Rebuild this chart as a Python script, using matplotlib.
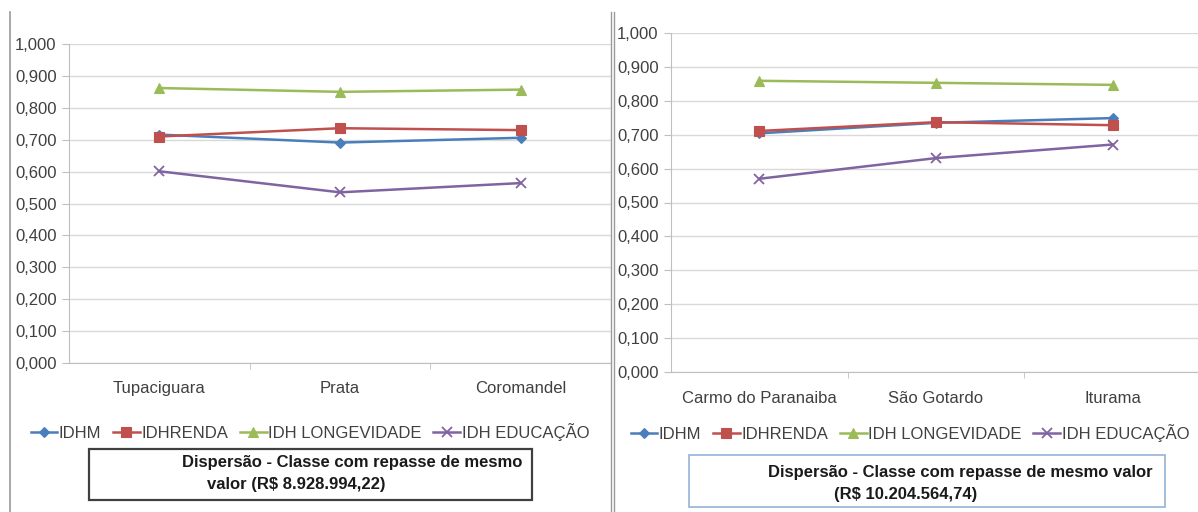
import matplotlib
matplotlib.use("Agg")
import matplotlib.pyplot as plt
from matplotlib.lines import Line2D
from matplotlib.patches import Rectangle
from matplotlib.ticker import FuncFormatter, FixedLocator

plt.rcParams['font.family'] = ['Liberation Sans', 'DejaVu Sans']

series_names = ['IDHM', 'IDHRENDA', 'IDH LONGEVIDADE', 'IDH EDUCAÇÃO']

# Class 1: R$ 8.928.994,22
cities_a = ['Tupaciguara', 'Prata', 'Coromandel']
idhm_a = [0.716, 0.691, 0.706]
renda_a = [0.710, 0.736, 0.730]
longev_a = [0.862, 0.850, 0.857]
educ_a = [0.601, 0.535, 0.564]

# Class 2: R$ 10.204.564,74
cities_b = ['Carmo do Paranaiba', 'São Gotardo', 'Iturama']
idhm_b = [0.704, 0.735, 0.749]
renda_b = [0.711, 0.737, 0.728]
longev_b = [0.859, 0.853, 0.847]
educ_b = [0.570, 0.631, 0.671]

colors = ['#4a7ebb', '#c0504d', '#9bbb59', '#8064a2']
markers = ['D', 's', '^', 'x']
msizes = [5, 7.5, 7, 7]

W, H = 1198, 512
fig = plt.figure(figsize=(W / 100, H / 100), dpi=100)


def px_axes(x0, x1, y_top, y_bot):
    return fig.add_axes([x0 / W, 1 - y_bot / H, (x1 - x0) / W, (y_bot - y_top) / H])


def draw_panel(ax, cities, data, label_pad):
    x = list(range(len(cities)))
    handles = []
    for vals, c, m, ms, name in zip(data, colors, markers, msizes, series_names):
        h, = ax.plot(x, vals, color=c, marker=m, markersize=ms, linewidth=1.8,
                     markeredgewidth=1.3 if m == 'x' else 0.8, label=name)
        handles.append(h)
    ax.set_xlim(-0.5, len(cities) - 0.5)
    ax.set_ylim(0, 1)
    ax.set_yticks([i / 10 for i in range(11)])
    ax.yaxis.set_major_formatter(FuncFormatter(lambda v, p: f'{v:.3f}'.replace('.', ',')))
    ax.set_xticks(x)
    ax.set_xticklabels(cities)
    ax.xaxis.set_minor_locator(FixedLocator([0.5, 1.5]))
    ax.tick_params(axis='x', which='major', length=0, pad=label_pad, labelsize=12, labelcolor='#404040')
    ax.tick_params(axis='x', which='minor', length=4, color='#bfbfbf')
    ax.tick_params(axis='y', length=5, color='#bfbfbf', pad=4, labelsize=12, labelcolor='#404040')
    ax.grid(axis='y', color='#d9d9d9', linewidth=1)
    ax.set_axisbelow(True)
    for s in ['top', 'right']:
        ax.spines[s].set_visible(False)
    ax.spines['left'].set_color('#bfbfbf')
    ax.spines['bottom'].set_color('#bfbfbf')
    return handles


ax1 = px_axes(69, 611, 44, 363)
h1 = draw_panel(ax1, cities_a, [idhm_a, renda_a, longev_a, educ_a], 13)

ax2 = px_axes(671, 1201, 33, 372)
h2 = draw_panel(ax2, cities_b, [idhm_b, renda_b, longev_b, educ_b], 14)

legend_kw = dict(loc='center', ncol=4, frameon=False, fontsize=12, handlelength=1.6,
                 handletextpad=0.1, columnspacing=0.7, labelcolor='#404040')
fig.legend(handles=h1, bbox_to_anchor=(310 / W, 1 - 432 / H), **legend_kw)
fig.legend(handles=h2, bbox_to_anchor=(910 / W, 1 - 433 / H), **legend_kw)

# caption boxes
fig.patches.append(Rectangle((89 / W, 1 - 500 / H), (532 - 89) / W, 51 / H,
                             transform=fig.transFigure, fill=False,
                             edgecolor='#404040', linewidth=1.6))
fig.patches.append(Rectangle((689 / W, 1 - 507 / H), (1165 - 689) / W, 52 / H,
                             transform=fig.transFigure, fill=False,
                             edgecolor='#95b3d7', linewidth=1.2))
txt = dict(ha='center', va='center', fontsize=12, fontweight='bold', color='#1a1a1a')
fig.text(352 / W, 1 - 463 / H, 'Dispersão - Classe com repasse de mesmo', **txt)
fig.text(296 / W, 1 - 484 / H, 'valor (R$ 8.928.994,22)', **txt)
fig.text(960 / W, 1 - 473 / H, 'Dispersão - Classe com repasse de mesmo valor', **txt)
fig.text(906 / W, 1 - 494 / H, '(R$ 10.204.564,74)', **txt)

# frame lines around the two charts
for xp in [9.5]:
    fig.add_artist(Line2D([xp / W, xp / W], [0, 1 - 12 / H], color='#9a9a9a', linewidth=1.2))
for xp in [611, 614]:
    fig.add_artist(Line2D([xp / W, xp / W], [0, 1 - 12 / H], color='#9a9a9a', linewidth=1))

fig.savefig('out.png', dpi=100)
